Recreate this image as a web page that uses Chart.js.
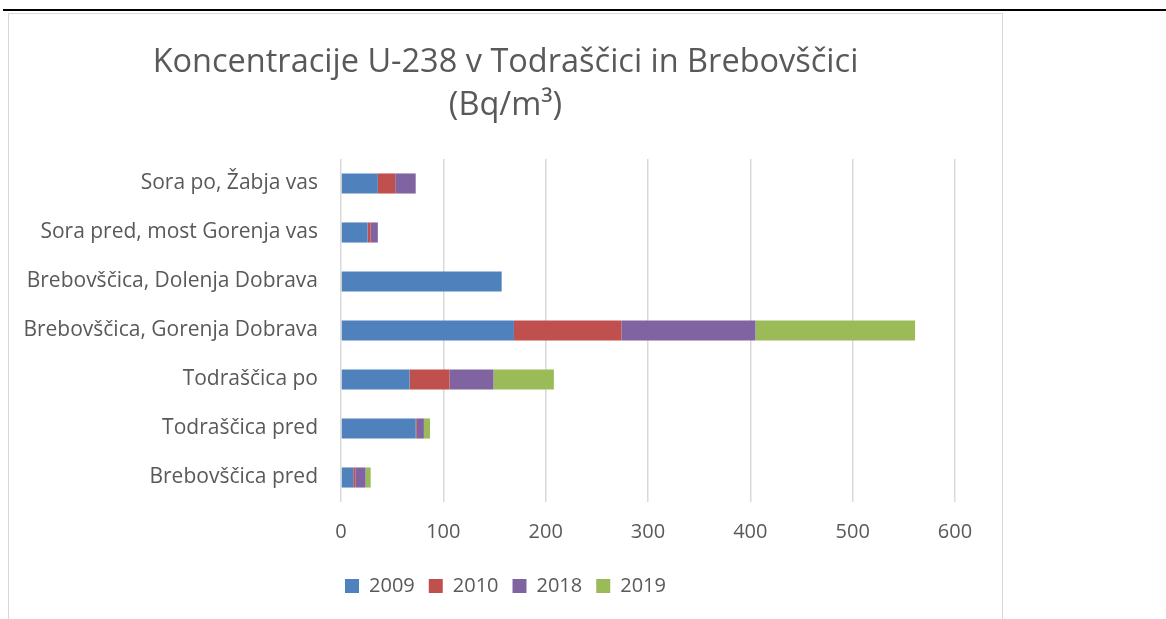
<!DOCTYPE html>
<html>
<head>
<meta charset="utf-8">
<script src="https://cdn.jsdelivr.net/npm/chart.js@4.4.0/dist/chart.umd.min.js"></script>
<style>
  body { margin: 0; background: #fff; overflow: hidden; }
  .crta { position: absolute; top: 9px; left: 3px; right: 0; height: 2px; background: #000; }
  .okvir { position: absolute; left: 8px; top: 13px; width: 993px; height: 620px;
           border: 1px solid #d9d9d9; border-bottom: none; }
  .platno { position: relative; width: 993px; height: 592px; }
</style>
</head>
<body>
<div class="crta"></div>
<div class="okvir"><div class="platno"><canvas id="grafU238"></canvas></div></div>
<script>
  // kategorije od zgoraj navzdol
  const lokacije = [
    "Sora po, Žabja vas",
    "Sora pred, most Gorenja vas",
    "Brebovščica, Dolenja Dobrava",
    "Brebovščica, Gorenja Dobrava",
    "Todraščica po",
    "Todraščica pred",
    "Brebovščica pred"
  ];
  const leto2009 = [36, 26, 157, 169, 67, 73, 12];
  const leto2010 = [17, 3, 0, 105, 39, 1, 2];
  const leto2018 = [20, 7, 0, 131, 43, 7, 10];
  const leto2019 = [0, 0, 0, 156, 59, 6, 5];
  const osX = [0, 100, 200, 300, 400, 500, 600];

  const pisava = "'Open Sans', 'Liberation Sans', sans-serif";
  const siva = "#595959";

  function narediGraf() {
    const ctx = document.getElementById("grafU238").getContext("2d");
    const serija = (label, data, barva) => ({
      label: label,
      data: data,
      backgroundColor: barva,
      borderWidth: 0,
      barPercentage: 0.41,
      categoryPercentage: 1
    });

    new Chart(ctx, {
      type: "bar",
      data: {
        labels: lokacije,
        datasets: [
          serija("2009", leto2009, "#4F81BD"),
          serija("2010", leto2010, "#C0504D"),
          serija("2018", leto2018, "#8064A2"),
          serija("2019", leto2019, "#9BBB59")
        ]
      },
      options: {
        indexAxis: "y",
        responsive: true,
        maintainAspectRatio: false,
        animation: false,
        layout: { padding: 0 },
        plugins: {
          title: {
            display: true,
            text: ["Koncentracije U-238 v Todraščici in Brebovščici", "(Bq/m³)"],
            color: siva,
            font: { family: pisava, size: 32.5, weight: "normal", lineHeight: 1.323 },
            padding: { top: 27, bottom: 32 }
          },
          legend: {
            position: "bottom",
            labels: {
              color: siva,
              font: { family: pisava, size: 20 },
              boxWidth: 14,
              boxHeight: 14,
              padding: 14
            }
          },
          tooltip: { enabled: false }
        },
        scales: {
          x: {
            stacked: true,
            min: 0,
            max: 600,
            afterBuildTicks: s => { s.ticks = osX.map(v => ({ value: v })); },
            grid: { color: "#d9d9d9", lineWidth: 1.5, drawTicks: false },
            border: { display: false },
            ticks: { color: siva, font: { family: pisava, size: 20 }, padding: 18 }
          },
          y: {
            stacked: true,
            afterFit: s => { s.width = 332; },
            grid: { display: false, drawTicks: false },
            border: { display: false },
            ticks: { color: siva, font: { family: pisava, size: 21 }, padding: 23 }
          },
          // prazna os na desni, da ostane prostor ob robu
          desno: {
            axis: "y",
            position: "right",
            afterFit: s => { s.width = 47; },
            grid: { display: false, drawTicks: false },
            border: { display: false },
            ticks: { display: false }
          }
        }
      }
    });
  }

  window.addEventListener("load", narediGraf);
</script>
</body>
</html>
